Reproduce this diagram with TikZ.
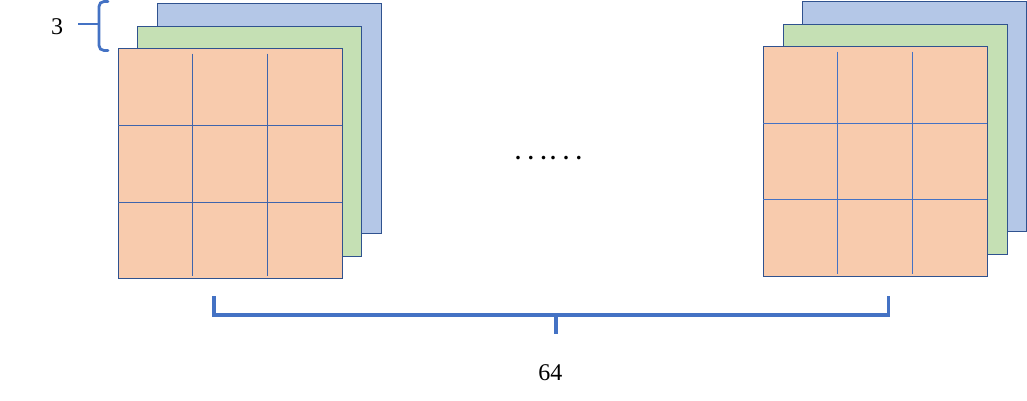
\documentclass[tikz,border=0pt]{standalone}
\usepackage{fontspec}
\setmainfont{Liberation Serif}
\definecolor{edgeblue}{HTML}{2F528F}
\definecolor{lineblue}{HTML}{4472C4}
\definecolor{lineblueL}{HTML}{3F65AC}
\definecolor{sheetorange}{HTML}{F8CBAD}
\definecolor{sheetgreen}{HTML}{C5E0B4}
\definecolor{sheetblue}{HTML}{B4C7E7}
\begin{document}
\begin{tikzpicture}
    [x=1pt,y=-1pt,
    font=\fontsize{24}{28}\selectfont,
    sheet/.style={shape=rectangle,draw=edgeblue,line width=1.3pt,minimum width=224pt,minimum height=230pt,inner sep=0pt,outer sep=0pt,anchor=north west},
    rsheet/.style={sheet,fill=sheetorange},
    gsheet/.style={sheet,fill=sheetgreen},
    bsheet/.style={sheet,fill=sheetblue},
    cell/.style={draw=lineblue,line width=1pt},
    label/.style={anchor=base,inner sep=0pt},
    bracket/.style={draw=lineblue,line width=3.2pt}]

    \useasboundingbox (0,0) rectangle (1027,401);

    % left stack
    \node (b1) [bsheet] at (157.3,3.3) {};
    \node (g1) [gsheet] at (137.3,26.5) {};
    \node (r1) [rsheet] at (118.3,48.7) {};
    % right stack
    \node (b2) [bsheet] at (802.3,1.3) {};
    \node (g2) [gsheet] at (783.3,24.3) {};
    \node (r2) [rsheet] at (763.3,46.6) {};

    \foreach \s/\c in {r1/lineblueL,r2/lineblue} {
      \foreach \i in {1,2} {
        \draw [cell,draw=\c] ([xshift=\i*74.67pt,yshift=-5pt]\s.north west) -- ([xshift=\i*74.67pt,yshift=2.5pt]\s.south west);
        \draw [cell,draw=\c] ([yshift=-\i*76.67pt]\s.north west) -- ([yshift=-\i*76.67pt]\s.north east);
      }
    }

    % brace for the 3 sheets
    \node (three) [label] at (57,35) {3};
    \coordinate (tip) at (99,24);
    \draw [bracket,line width=2.8pt,line cap=round,rounded corners=5pt] (108,1.5) -- (99,1.5) -- (99,50.5) -- (108,50.5);
    \draw [bracket,line width=2.8pt] (78,24) -- (tip);

    \node (dots) [label,font=\fontsize{22}{26}\selectfont\bfseries] at (548.5,159) {. . .\hspace{4pt}. . .};

    % bracket for the 64 kernels
    \coordinate (lft) at (214,296);
    \coordinate (rgt) at (888.4,296);
    \coordinate (mid) at (556,315);
    \node (count) [label] at (550.4,380) {64};
    \draw [bracket] (lft) |- (mid) -| (rgt);
    \draw [bracket] (mid) -- ++(0,19);

\end{tikzpicture}
\end{document}
